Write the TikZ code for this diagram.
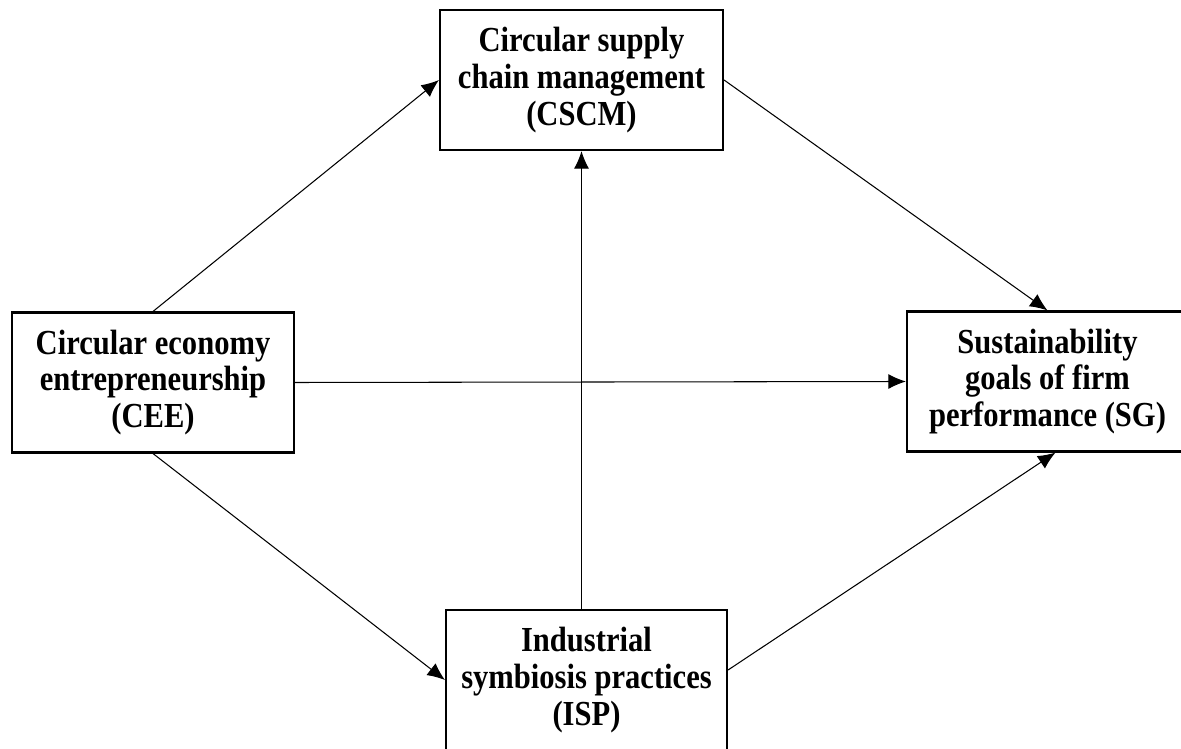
\documentclass[tikz,border=0pt]{standalone}
\usepackage{fontspec}
\setmainfont{Liberation Serif}[FakeStretch=0.87]
\usetikzlibrary{calc,arrows.meta}
\newdimen\pxu \pxu=0.02cm
\tikzset{
  boxnode/.style={rectangle,draw,line width=1.2pt,align=center,
    minimum width=281\pxu,minimum height=140\pxu,inner sep=0pt,
    font=\fontsize{20}{21}\selectfont\bfseries},
  link/.style={line width=0.6pt,-{Latex[length=10pt,width=8.5pt]}}
}
\begin{document}
\begin{tikzpicture}[x=0.02cm,y=-0.02cm]
 \useasboundingbox (0,0) rectangle (1181,749);

 \node at (581.5,80) [boxnode,minimum width=283\pxu] (cscm) {Circular supply\\chain management\\(CSCM)};
 \node at (153,382.5) [boxnode,minimum width=282\pxu] (cee) {Circular economy\\entrepreneurship\\(CEE)};
 \node at (1047.5,381.5) [boxnode] (sg) {Sustainability\\goals of firm\\performance (SG)};
 \node at (586.5,680) [boxnode] (isp) {Industrial\\symbiosis practices\\(ISP)};

 \draw[link] (cee.north)--(cscm.west);
 \draw[link] (cscm.east)--(sg.north);
 \draw[link] (cee.east)--(sg.west);
 \draw[link] (cscm.south |- isp.north)--(cscm.south);
 \draw[link] (cee.south)--(isp.west);
 \draw[link] ($(isp.east)+(0,-10)$)--($(sg.south)+(8,0)$);
\end{tikzpicture}
\end{document}
